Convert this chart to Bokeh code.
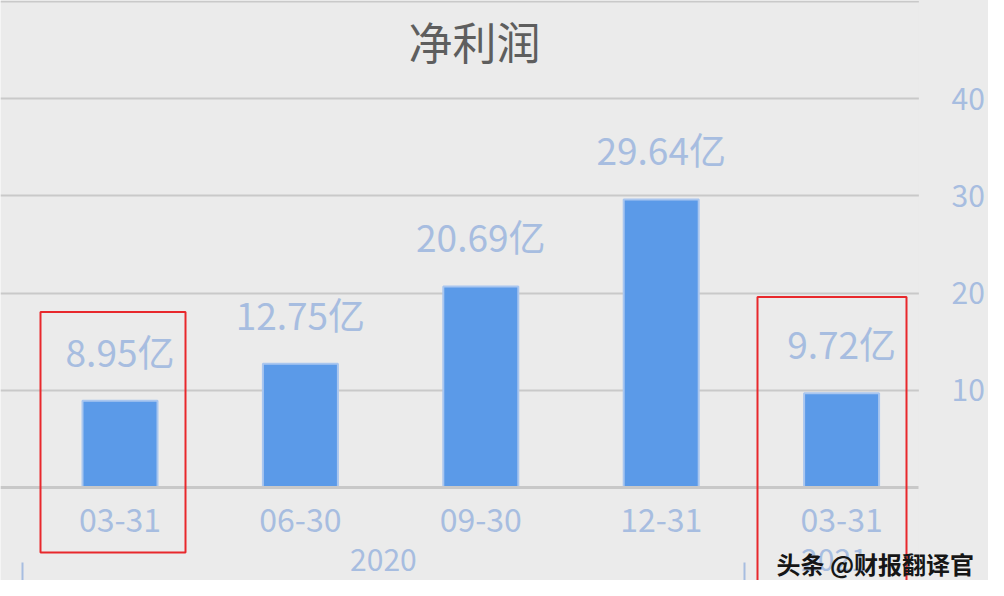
from bokeh.plotting import figure
from bokeh.models import FixedTicker, LinearAxis, Label, BoxAnnotation, Range1d, ColumnDataSource
from bokeh.core.properties import value
from bokeh.embed import file_html
from bokeh.resources import INLINE

# ---- data ----
periods = ["03-31", "06-30", "09-30", "12-31", "03-31"]
years = ["2020", "2020", "2020", "2020", "2021"]
profit = [8.95, 12.75, 20.69, 29.64, 9.72]
value_labels = ["8.95亿", "12.75亿", "20.69亿", "29.64亿", "9.72亿"]
y_ticks = [10, 20, 30, 40]
grid_ticks = [10, 20, 30, 40, 50]
title_text = "净利润"
watermark_text = "头条 @财报翻译官"
highlighted = [0, 4]

# ---- style ----
FONT = "Noto Sans CJK SC"
BG = "#ebebeb"
GRID = "#c9c9c9"
BLUE_TEXT = "#a7bde0"
BAR_FILL = "#5b9ae8"
BAR_LINE = "#a9c6ef"
RED = "#e8282c"

W, H = 988, 580
PX_X = 180.4          # pixels per category
X0_PX = 119.5         # pixel position of first category centre
PX_Y = 9.74           # pixels per unit of value
Y0_PX = 487           # pixel position of zero line


def xd(px):
    return (px - X0_PX) / PX_X


def yd(py):
    return (Y0_PX - py) / PX_Y


idx = list(range(len(periods)))
plot_right = xd(918)

p = figure(
    width=W, height=H,
    x_range=Range1d(xd(0), xd(W)), y_range=Range1d(yd(H), yd(-1)),
    y_axis_location="right",
    output_backend="svg", toolbar_location=None,
    min_border_left=0, min_border_top=0, min_border_right=0, min_border_bottom=0,
    background_fill_color=BG, border_fill_color=BG, outline_line_color=None,
)

# grid
p.xgrid.visible = False
p.ygrid.ticker = FixedTicker(ticks=grid_ticks)
p.ygrid.grid_line_color = GRID
p.ygrid.grid_line_width = 2

# plain background to the right of the plotting area (grid stops there)
p.add_layout(BoxAnnotation(left=plot_right + 0.002, right=xd(W + 50), top=yd(-50), bottom=yd(H + 50),
                           fill_color=BG, fill_alpha=1, line_color=None, level="underlay"))

# right value axis
ya = p.yaxis[0]
ya.fixed_location = plot_right
ya.ticker = FixedTicker(ticks=y_ticks)
ya.axis_line_color = None
ya.major_tick_in = 0
ya.major_tick_out = 0
ya.minor_tick_in = 0
ya.minor_tick_out = 0
ya.major_label_text_font = FONT
ya.major_label_text_font_size = "30px"
ya.major_label_text_color = BLUE_TEXT
ya.major_label_standoff = 33

# category axis at zero line
xa = p.xaxis[0]
xa.fixed_location = 0
xa.bounds = (xd(0), plot_right)
xa.ticker = FixedTicker(ticks=idx)
xa.major_label_overrides = {i: periods[i] for i in idx}
xa.axis_line_color = "#c8c8c8"
xa.axis_line_width = 3
xa.major_tick_in = 0
xa.major_tick_out = 0
xa.minor_tick_in = 0
xa.minor_tick_out = 0
xa.major_label_text_font = FONT
xa.major_label_text_font_size = "32px"
xa.major_label_text_color = BLUE_TEXT
xa.major_label_standoff = 20

# year group axis
uniq_years = []
for y in years:
    if y not in uniq_years:
        uniq_years.append(y)
shift = -0.04
centers = []
seps = []
for y in uniq_years:
    members = [i for i in idx if years[i] == y]
    centers.append(sum(members) / len(members) + shift)
    seps.append(members[0] - 0.5 + shift)
ga = LinearAxis(ticker=FixedTicker(ticks=centers, minor_ticks=seps), fixed_location=yd(562))
ga.major_label_overrides = {c: y for c, y in zip(centers, uniq_years)}
ga.axis_line_color = None
ga.major_tick_in = 0
ga.major_tick_out = 0
ga.minor_tick_in = -40
ga.minor_tick_out = 0
ga.minor_tick_line_color = BLUE_TEXT
ga.minor_tick_line_width = 2
ga.major_label_text_font = FONT
ga.major_label_text_font_size = "30px"
ga.major_label_text_color = BLUE_TEXT
ga.major_label_standoff = -14
p.add_layout(ga, "below")

# bars
src = ColumnDataSource(dict(x=idx, top=profit, label=value_labels))
p.vbar(x="x", top="top", bottom=0, width=75 / PX_X, source=src,
       fill_color=BAR_FILL, line_color=BAR_LINE, line_width=2)
p.text(x="x", y="top", text="label", source=src,
       text_font=value(FONT), text_font_size="37px", text_color=BLUE_TEXT,
       text_align="center", text_baseline="alphabetic", y_offset=-50)

# title inside chart area
p.add_layout(Label(x=xd(474), y=yd(40), text=title_text, text_align="center",
                   text_baseline="middle", text_font=FONT,
                   text_font_size="44px", text_color="#5e5e5e"))

# highlight boxes
box_px = {0: (40, 185, 311, 552), 4: (757, 906, 296, 592)}
for i in highlighted:
    l, r, t, b = box_px[i]
    p.add_layout(BoxAnnotation(left=xd(l), right=xd(r), top=yd(t), bottom=yd(b),
                               fill_color=None, fill_alpha=0,
                               line_color=RED, line_alpha=1, line_width=2))

# watermark
p.add_layout(Label(x=xd(776), y=yd(563), text=watermark_text, text_align="left",
                   text_baseline="middle", text_font=FONT, text_font_style="bold",
                   text_font_size="24px", text_color="#161616"))

open("out.html", "w").write(file_html(p, INLINE))
